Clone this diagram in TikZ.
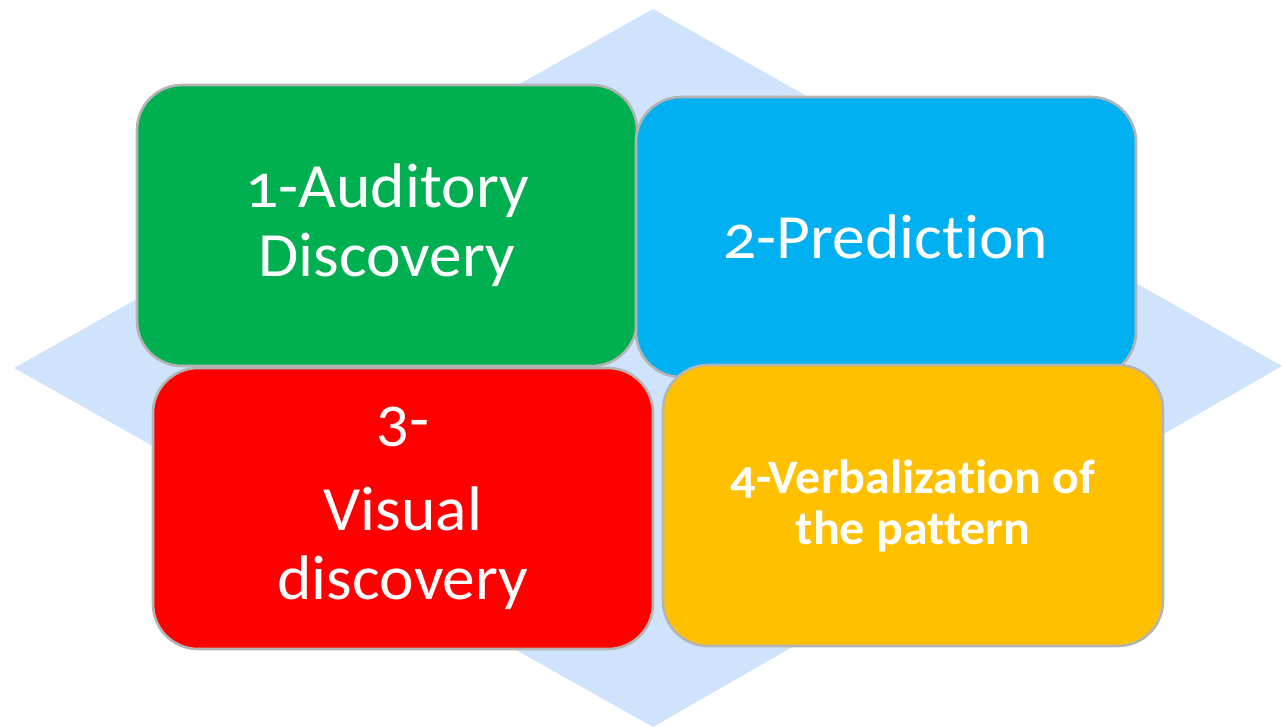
\documentclass[tikz,border=0pt]{standalone}
\usepackage{fontspec}
\setmainfont{Carlito}[Numbers=OldStyle, Ligatures={NoCommon,NoContextual}, FakeStretch=1.04]
\usepackage{xcolor}
\usepackage{tikz}
\usetikzlibrary{calc}
\definecolor{stepgreen}{HTML}{00B050}
\definecolor{stepblue}{HTML}{00B0F0}
\definecolor{stepred}{HTML}{FF0000}
\definecolor{stepyellow}{HTML}{FFC000}
\definecolor{stepedge}{HTML}{B4B4B4}
\definecolor{backdiamond}{HTML}{CFE4FC}

\begin{document}
\begin{tikzpicture}[
        x=1pt, y=-1pt,
        card/.style={rectangle, rounded corners=45pt, draw=stepedge, line width=2.6pt,
            minimum width=500pt, minimum height=281pt, inner sep=0pt,
            text=white, align=center, font=\fontsize{63}{69}\selectfont},
        card bold/.style={card, font=\fontsize{48}{51}\selectfont\bfseries}
    ]
    \useasboundingbox (0,0) rectangle (1282,727);

    % background diamond
    \coordinate (top) at (653,9);
    \coordinate (right) at (1282,366);
    \coordinate (bottom) at (653,727);
    \coordinate (left) at (14,368);
    \fill[backdiamond] (top) -- (right) -- (bottom) -- (left) -- cycle;

    % the four steps
    \node[card, fill=stepgreen] (auditory) at (387,225.5) {1-Auditory\\Discovery};
    \node[card, fill=stepblue, minimum height=280pt] (prediction) at (886,237) {2-Prediction};
    \node[card, fill=stepred] (visual) at (403,508.5) {3-\\[21pt]Visual\\discovery};
    \node[card bold, fill=stepyellow] (verbal) at (913,505.5) {4-Verbalization of\\the pattern};
\end{tikzpicture}
\end{document}
